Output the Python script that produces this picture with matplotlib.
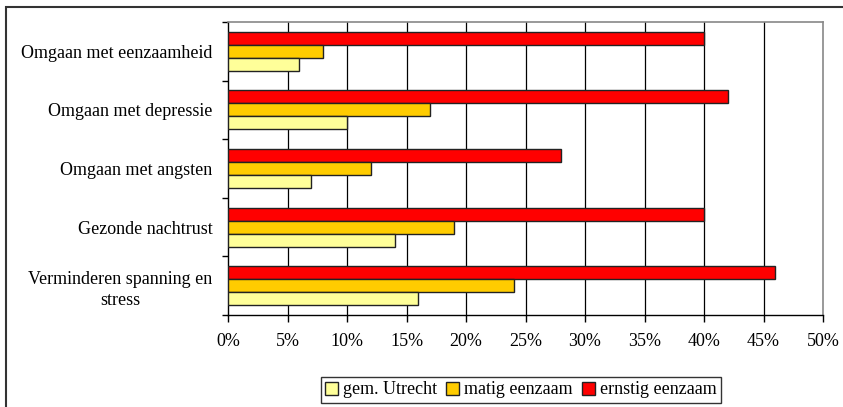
import matplotlib
matplotlib.use("Agg")
import matplotlib.pyplot as plt
from matplotlib.patches import Rectangle
import numpy as np

plt.rcParams['font.family'] = ['Liberation Serif', 'DejaVu Serif']

categories = [
    "Omgaan met eenzaamheid",
    "Omgaan met depressie",
    "Omgaan met angsten",
    "Gezonde nachtrust",
    "Verminderen spanning en\nstress",
]
gem_utrecht = [6, 10, 7, 14, 16]
matig_eenzaam = [8, 17, 12, 19, 24]
ernstig_eenzaam = [40, 42, 28, 40, 46]
x_ticks = [0, 5, 10, 15, 20, 25, 30, 35, 40, 45, 50]

W, H = 843, 407
fig = plt.figure(figsize=(W / 100, H / 100), dpi=100)
ax = fig.add_axes([228 / W, 1 - 315 / H, (823 - 228) / W, (315 - 22) / H])

# outer chart frame, runs off the right and bottom edge
fig.patches.append(Rectangle((6 / W, -0.1), 1.2, 1 - 7 / H + 0.1,
                             transform=fig.transFigure, fill=False,
                             edgecolor='#333333', linewidth=1.5))

y = np.arange(len(categories))
h = 0.222
series = [
    (ernstig_eenzaam, -h, '#FF0000', 'ernstig eenzaam'),
    (matig_eenzaam, 0, '#FFCC00', 'matig eenzaam'),
    (gem_utrecht, h, '#FFFF99', 'gem. Utrecht'),
]
bars = {}
for vals, off, col, name in series:
    bars[name] = ax.barh(y + off, vals, height=h, color=col,
                         edgecolor='#222222', linewidth=1, zorder=3)

ax.set_xlim(0, 50)
ax.set_ylim(len(categories) - 0.5, -0.5)
ax.set_xticks(x_ticks)
ax.set_xticklabels([f"{t}%" for t in x_ticks], fontsize=13)
for t in x_ticks[1:-1]:
    ax.axvline(t, color='black', linewidth=0.9, zorder=1)

ax.set_yticks(y)
ax.set_yticklabels(categories, fontsize=13, linespacing=1.3)
for lab in ax.get_yticklabels():
    lab.set_multialignment('center')
ax.set_yticks(np.arange(len(categories) + 1) - 0.5, minor=True)
ax.tick_params(axis='y', which='major', length=0, pad=11)
ax.tick_params(axis='y', which='minor', length=4, direction='out', width=1)
ax.tick_params(axis='x', length=5, direction='out', width=1, pad=8)

for s in ['left', 'bottom']:
    ax.spines[s].set_color('black')
    ax.spines[s].set_linewidth(1)
for s in ['top', 'right']:
    ax.spines[s].set_color('#888888')
    ax.spines[s].set_linewidth(1.2)

handles = [bars['gem. Utrecht'], bars['matig eenzaam'], bars['ernstig eenzaam']]
labels = ['gem. Utrecht', 'matig eenzaam', 'ernstig eenzaam']
leg = fig.legend(handles, labels, loc='center', ncol=3,
                 bbox_to_anchor=(521 / W, 1 - 390 / H), fontsize=13,
                 frameon=True, fancybox=False, edgecolor='black',
                 handlelength=0.7, handleheight=0.7, handletextpad=0.3,
                 columnspacing=0.5, borderpad=0.25, borderaxespad=0)
leg.get_frame().set_linewidth(1)

fig.savefig("out.png", dpi=100)
